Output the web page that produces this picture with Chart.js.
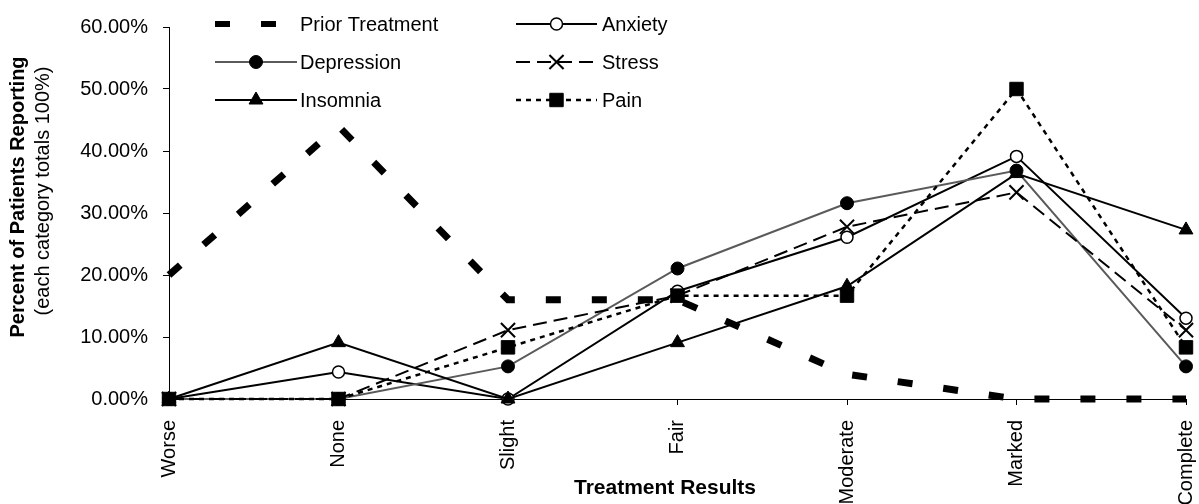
<!DOCTYPE html>
<html>
<head>
<meta charset="utf-8">
<script src="https://cdn.jsdelivr.net/npm/chart.js@4/dist/chart.umd.min.js"></script>
<style>
  body { margin: 0; background: #fff; }
  #wrap { width: 1199px; height: 504px; position: relative; }
</style>
</head>
<body>
<div id="wrap"><canvas id="line-chart"></canvas></div>
<script>
// values, percent of patients in each category
const categories = ["Worse", "None", "Slight", "Fair", "Moderate", "Marked", "Complete"];
const seriesNames = ["Prior Treatment", "Anxiety", "Depression", "Stress", "Insomnia", "Pain"];
const priorTreatment = [20, 44, 16, 16, 4, 0, 0];
const anxiety = [0, 4.35, 0, 17.39, 26.09, 39.13, 13.04];
const depression = [0, 0, 5.26, 21.05, 31.58, 36.84, 5.26];
const stress = [0, 0, 11.11, 16.67, 27.78, 33.33, 11.11];
const insomnia = [0, 9.09, 0, 9.09, 18.18, 36.36, 27.27];
const pain = [0, 0, 8.33, 16.67, 16.67, 50, 8.33];
const yMin = 0;
const yMax = 60;
const yStep = 10;

const FONT = "'Liberation Sans', Arial, sans-serif";

const datasets = [
  {
    label: seriesNames[0], data: priorTreatment,
    borderColor: "#000", borderWidth: 7, borderDash: [15, 31],
    pointRadius: 0, pointStyle: false, order: 6,
  },
  {
    label: seriesNames[1], data: anxiety,
    borderColor: "#000", borderWidth: 2,
    pointStyle: "circle", pointRadius: 6, pointBorderWidth: 1.5,
    pointBackgroundColor: "#fff", pointBorderColor: "#000", order: 5,
  },
  {
    label: seriesNames[2], data: depression,
    borderColor: "#5a5a5a", borderWidth: 2,
    pointStyle: "circle", pointRadius: 6.5, pointBorderWidth: 1,
    pointBackgroundColor: "#000", pointBorderColor: "#000", order: 4,
  },
  {
    label: seriesNames[3], data: stress,
    borderColor: "#000", borderWidth: 2, borderDash: [14, 7],
    pointStyle: "crossRot", pointRadius: 10, pointBorderWidth: 2,
    pointBackgroundColor: "#000", pointBorderColor: "#000", order: 3,
  },
  {
    label: seriesNames[4], data: insomnia,
    borderColor: "#000", borderWidth: 2,
    pointStyle: "triangle", pointRadius: 8, pointBorderWidth: 1,
    pointBackgroundColor: "#000", pointBorderColor: "#000", order: 2,
  },
  {
    label: seriesNames[5], data: pain,
    borderColor: "#000", borderWidth: 2.5, borderDash: [5, 5],
    pointStyle: "rect", pointRadius: 9.5, pointBorderWidth: 1,
    pointBackgroundColor: "#000", pointBorderColor: "#000", order: 1,
  },
];
datasets.forEach((d) => {
  d.fill = false;
  d.tension = 0;
  d.clip = false;
  d.pointHoverRadius = d.pointRadius;
  d.borderCapStyle = "butt";
  d.borderJoinStyle = "miter";
});

// legend laid out like the original: 2 columns, 3 rows inside the plot
const legendCols = [
  { x0: 215, x1: 297, tx: 300 },
  { x0: 516, x1: 597, tx: 602 },
];
const legendRows = [24, 62, 100];

const customText = {
  id: "customText",
  afterDraw(chart) {
    const ctx = chart.ctx;
    ctx.save();

    // legend
    chart.data.datasets.forEach((ds, i) => {
      const col = legendCols[i % 2];
      const y = legendRows[Math.floor(i / 2)];
      ctx.setLineDash(ds.borderDash || []);
      ctx.lineCap = "butt";
      ctx.strokeStyle = ds.borderColor;
      ctx.lineWidth = i === 0 ? 6 : ds.borderWidth;
      ctx.beginPath();
      ctx.moveTo(col.x0, y);
      ctx.lineTo(col.x1, y);
      ctx.stroke();
      ctx.setLineDash([]);
      if (ds.pointStyle) {
        ctx.fillStyle = ds.pointBackgroundColor;
        ctx.strokeStyle = ds.pointBorderColor;
        ctx.lineWidth = ds.pointBorderWidth;
        Chart.helpers.drawPoint(ctx, {
          pointStyle: ds.pointStyle,
          radius: ds.pointRadius,
          rotation: 0,
          borderWidth: ds.pointBorderWidth,
        }, (col.x0 + col.x1) / 2, y);
      }
      ctx.fillStyle = "#000";
      ctx.font = "20px " + FONT;
      ctx.textAlign = "left";
      ctx.textBaseline = "middle";
      ctx.fillText(ds.label, col.tx, y + 1);
    });

    // y axis title, two lines with different weights
    ctx.fillStyle = "#000";
    ctx.textAlign = "center";
    ctx.textBaseline = "middle";
    ctx.save();
    ctx.translate(18, 197);
    ctx.rotate(-Math.PI / 2);
    ctx.font = "bold 20px " + FONT;
    ctx.fillText("Percent of Patients Reporting", 0, 0);
    ctx.restore();
    ctx.save();
    ctx.translate(43, 191);
    ctx.rotate(-Math.PI / 2);
    ctx.font = "20px " + FONT;
    ctx.fillText("(each category totals 100%)", 0, 0);
    ctx.restore();

    // x axis title
    ctx.font = "bold 21px " + FONT;
    ctx.fillText("Treatment Results", 665, 488);

    ctx.restore();
  },
};

const ctx = document.getElementById("line-chart").getContext("2d");
const lineChartInstance = new Chart(ctx, {
  type: "line",
  data: { labels: categories, datasets: datasets },
  options: {
    responsive: true,
    maintainAspectRatio: false,
    animation: false,
    events: [],
    layout: { padding: { top: 19, right: 13, left: 0, bottom: 0 } },
    plugins: {
      legend: { display: false },
      tooltip: { enabled: false },
    },
    scales: {
      x: {
        offset: false,
        afterFit: (scale) => {
          scale.height = 105;
          scale.paddingLeft = 0;
          scale.paddingRight = 0;
        },
        border: { display: true, color: "#000", width: 1 },
        grid: { display: true, drawOnChartArea: false, drawTicks: true, tickLength: 6, color: "#000" },
        ticks: {
          autoSkip: false, minRotation: 90, maxRotation: 90, padding: 15,
          color: "#000", font: { family: FONT, size: 20 },
        },
      },
      y: {
        min: yMin,
        max: yMax,
        afterFit: (scale) => { scale.width = 169; },
        border: { display: true, color: "#000", width: 1 },
        grid: { display: true, drawOnChartArea: false, drawTicks: true, tickLength: 6, color: "#000" },
        ticks: {
          stepSize: yStep, padding: 15, color: "#000",
          font: { family: FONT, size: 20 },
          callback: (v) => v.toFixed(2) + "%",
        },
      },
    },
  },
  plugins: [customText],
});
</script>
</body>
</html>
